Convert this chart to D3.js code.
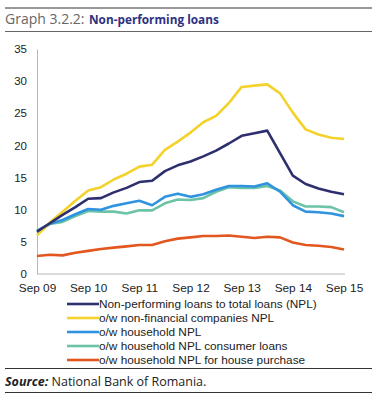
<!DOCTYPE html>
<html>
<head>
<meta charset="utf-8">
<script src="https://cdn.jsdelivr.net/npm/d3@7"></script>
<style>
  body { margin: 0; background: #fff; }
  svg { display: block; }
</style>
</head>
<body>
<div id="chart"></div>
<script>
// Quarterly observations, Sep 09 .. Sep 15
const quarters = d3.range(25)
const tickLabels = ['Sep 09', 'Sep 10', 'Sep 11', 'Sep 12', 'Sep 13', 'Sep 14', 'Sep 15']
const yTicks = [0, 5, 10, 15, 20, 25, 30, 35]

const nplTotal = [6.6, 7.9, 9.2, 10.4, 11.7, 11.8, 12.7, 13.4, 14.3, 14.5, 16.0, 16.9, 17.5,
  18.3, 19.2, 20.3, 21.5, 21.9, 22.3, 18.8, 15.3, 14.0, 13.3, 12.8, 12.4]
const nplCompanies = [6.0, 8.0, 9.7, 11.4, 13.0, 13.5, 14.7, 15.6, 16.7, 17.0, 19.3, 20.6, 22.0,
  23.6, 24.6, 26.6, 29.1, 29.3, 29.5, 28.1, 25.1, 22.5, 21.7, 21.2, 21.0]
const nplHousehold = [6.7, 7.8, 8.4, 9.3, 10.1, 10.0, 10.6, 11.0, 11.4, 10.7, 12.0, 12.5, 12.0,
  12.4, 13.1, 13.7, 13.7, 13.6, 14.1, 12.8, 10.7, 9.7, 9.6, 9.4, 9.0]
const nplConsumer = [6.4, 7.8, 8.1, 9.0, 9.8, 9.7, 9.7, 9.4, 9.9, 9.9, 11.0, 11.6, 11.5,
  11.8, 12.8, 13.5, 13.4, 13.4, 13.7, 13.0, 11.3, 10.5, 10.5, 10.4, 9.6]
const nplHouse = [2.8, 3.0, 2.9, 3.3, 3.6, 3.9, 4.1, 4.3, 4.5, 4.5, 5.1, 5.5, 5.7,
  5.9, 5.9, 6.0, 5.8, 5.6, 5.8, 5.7, 4.9, 4.5, 4.4, 4.2, 3.8]

const series = [
  { name: 'Non-performing loans to total loans (NPL)', values: nplTotal, color: '#2e2f6e' },
  { name: 'o/w non-financial companies NPL', values: nplCompanies, color: '#f4d22c' },
  { name: 'o/w household NPL', values: nplHousehold, color: '#2f93e0' },
  { name: 'o/w household NPL consumer loans', values: nplConsumer, color: '#6cc3a6' },
  { name: 'o/w household NPL for house purchase', values: nplHouse, color: '#e2571f' }
]

const W = 377, H = 400
const FONT = '"Liberation Sans", Arial, sans-serif'

const svg = d3.select('#chart').append('svg')
  .attr('width', W).attr('height', H)

// Header
svg.append('line').attr('x1', 5).attr('x2', 372).attr('y1', 8).attr('y2', 8)
  .attr('stroke', '#333').attr('stroke-width', 1)
svg.append('line').attr('x1', 5).attr('x2', 372).attr('y1', 31.5).attr('y2', 31.5)
  .attr('stroke', '#666').attr('stroke-width', 1)
svg.append('text').attr('x', 5).attr('y', 24)
  .attr('font-family', '"Open Sans", sans-serif').attr('font-size', 14)
  .attr('fill', '#666').text('Graph 3.2.2:')
svg.append('text').attr('x', 89).attr('y', 24)
  .attr('font-family', '"Open Sans", sans-serif').attr('font-size', 11.8)
  .attr('font-weight', 'bold').attr('fill', '#2e3180').text('Non-performing loans')

// Scales
const x = d3.scaleLinear().domain([0, 24]).range([37, 344])
const y = d3.scaleLinear().domain([0, 35]).range([274, 49])

// Axes
svg.append('g')
  .attr('transform', 'translate(37,0)')
  .call(d3.axisLeft(y).tickValues(yTicks).tickSize(0).tickPadding(10))
  .call(g => {
    g.select('.domain').attr('stroke', '#b8b8b8')
    g.selectAll('.tick text').attr('fill', '#222').attr('font-size', 11.5).attr('font-family', FONT)
  })

svg.append('g')
  .attr('transform', 'translate(0,274)')
  .call(d3.axisBottom(x).tickValues([0, 4, 8, 12, 16, 20, 24])
    .tickFormat((d, i) => tickLabels[i]).tickSize(0).tickPadding(10))
  .call(g => {
    g.select('.domain').attr('stroke', '#b8b8b8').attr('d', 'M37,0H345')
    g.selectAll('.tick text').attr('fill', '#222').attr('font-size', 11.8).attr('font-family', FONT)
  })

// Lines (drawn bottom-up so total NPL sits on top)
const line = d3.line().x((d, i) => x(quarters[i])).y(d => y(d))
svg.append('g').selectAll('path')
  .data(series.slice().reverse())
  .join('path')
  .attr('fill', 'none')
  .attr('stroke', d => d.color)
  .attr('stroke-width', 2.6)
  .attr('stroke-linejoin', 'round')
  .attr('d', d => line(d.values))

// Legend
const legend = svg.append('g').selectAll('g')
  .data(series)
  .join('g')
  .attr('transform', (d, i) => `translate(67,${304 + i * 14})`)
legend.append('line').attr('x1', 0).attr('x2', 32)
  .attr('stroke', d => d.color).attr('stroke-width', 2.6)
legend.append('text').attr('x', 32).attr('y', 4)
  .attr('fill', '#222').attr('font-size', 11.8).attr('font-family', FONT)
  .text(d => d.name)

// Source
svg.append('line').attr('x1', 5).attr('x2', 372).attr('y1', 368.5).attr('y2', 368.5)
  .attr('stroke', '#333').attr('stroke-width', 1)
const src = svg.append('text').attr('x', 5).attr('y', 386)
  .attr('font-family', '"Open Sans", sans-serif').attr('font-size', 12.5).attr('fill', '#222')
src.append('tspan').attr('font-weight', 'bold').attr('font-style', 'italic').text('Source:')
src.append('tspan').text(' National Bank of Romania.')
svg.append('line').attr('x1', 5).attr('x2', 372).attr('y1', 392.5).attr('y2', 392.5)
  .attr('stroke', '#333').attr('stroke-width', 1)
</script>
</body>
</html>
